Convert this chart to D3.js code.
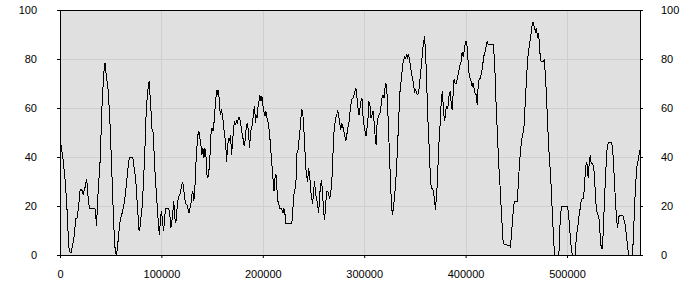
<!DOCTYPE html>
<html lang="en">
<head>
    <meta charset="UTF-8">
    <title>Line chart</title>
    <script src="https://d3js.org/d3.v7.min.js"></script>
    <style>
        body {
            margin: 0;
            padding: 0;
            background: #ffffff;
        }

        .tick text {
            font-family: "Liberation Sans", Arial, sans-serif;
            font-size: 11px;
            fill: #000;
        }
    </style>
</head>
<body>
    <svg width="700" height="300"></svg>

    <script>
        // x positions (in thousands) and the values
        const xs = [0, 1, 3, 5, 6, 7, 8, 9, 10, 11, 12, 13.5, 14.5, 15.5, 16.8, 17.8, 18.8, 19.7, 20.7, 22.1,
            23.1, 24.1, 25.1, 26.1, 27, 28, 29.3, 34.3, 35, 36, 37, 38, 39.2, 40.2, 40.9, 41.9, 42.8, 43.8, 44.4, 45.4,
            46.4, 47.4, 48.4, 49.4, 50, 50.7, 51.7, 52.7, 53.7, 54.7, 55.7, 56.7, 57.7, 58.6, 59.6, 60.6, 61.6, 62.6, 63.6, 64.6,
            65.5, 66.5, 67.5, 68.5, 69.5, 71.1, 72.1, 73, 74, 75, 76, 77, 78, 79, 80, 81, 81.9, 82.9, 83.9, 84.9,
            85.9, 86.9, 87.9, 88.8, 89.8, 90.8, 91.8, 92.8, 93.8, 94.8, 96.2, 97.1, 98.1, 99.1, 100.1, 101.1, 102.1, 103.1, 104, 107.3,
            108.3, 109.3, 110.3, 111.3, 112.2, 113.2, 114.2, 115.2, 116.2, 117.2, 118.2, 119.2, 120.1, 121.1, 122.1, 123.1, 124.1, 125.1, 126.1, 127.1,
            128, 129, 130, 131, 132, 133, 134, 135, 136, 136.9, 137.9, 138.9, 139.9, 140.9, 141.9, 142.9, 143.9, 144.8, 145.8, 146.8,
            147.8, 148.8, 149.8, 150.8, 151.7, 152.7, 153.7, 154.7, 155.7, 156.4, 157.4, 158.3, 159.3, 160.3, 161.3, 162.3, 163.3, 164.3, 165.2, 166.2,
            167.2, 168.2, 169.2, 170.2, 171.2, 172.2, 173.1, 174.1, 175.1, 176.1, 177.1, 178.1, 179.1, 180.1, 181, 182, 183, 184, 185, 186,
            187, 188, 189, 189.9, 190.9, 191.9, 192.8, 193.6, 194.4, 195.2, 196.2, 197.1, 198.1, 199.1, 200.1, 201.1, 202.1, 203.1, 204.1, 205,
            206, 207, 208, 209, 210, 211, 212, 213, 213.9, 214.9, 215.9, 216.9, 217.9, 218.9, 219.9, 220.8, 221.8, 222.8, 228.7, 229.7,
            230.7, 231.7, 232.7, 233.7, 234.6, 235.6, 236.6, 237.6, 238.6, 239.3, 240.3, 241.3, 242.3, 243.2, 244.2, 245.2, 246.2, 247.2, 248.2, 249.2,
            250.1, 251.1, 252.1, 253.1, 254.1, 255.1, 256.1, 257.1, 258, 259, 260, 261, 262, 263, 264, 265, 265.9, 266.9, 267.9, 268.9,
            269.9, 270.9, 271.9, 272.9, 273.8, 274.8, 275.8, 276.8, 277.8, 278.8, 279.8, 280.7, 281.7, 282.7, 283.7, 284.7, 285.7, 286.7, 287.7, 288.9,
            289.9, 290.9, 291.9, 292.9, 293.9, 294.9, 295.9, 296.8, 297.8, 298.8, 299.8, 300.8, 301.8, 302.8, 303.8, 304.7, 305.7, 306.7, 307.7, 308.7,
            309.7, 310.7, 311.7, 312.6, 313.6, 314.6, 315.6, 316.6, 317.6, 318.6, 319.6, 320.5, 321.5, 322.2, 323.2, 324.2, 325.2, 326.2, 327.1, 328.1,
            329.1, 330.1, 331.1, 332.1, 333.1, 334.1, 335, 336, 337, 338, 339, 340, 341, 342, 342.9, 343.9, 344.9, 345.9, 346.9, 347.9,
            348.9, 349.8, 350.8, 351.8, 352.8, 353.8, 354.8, 355.8, 356.8, 357.7, 358.7, 359.3, 360.3, 361.3, 362.3, 363.3, 364.3, 365.3, 366.2, 367.2,
            368.2, 369.2, 370.2, 371.2, 372.2, 373.2, 374.1, 375.1, 376.1, 377.1, 378.1, 379.1, 380.1, 381, 382, 383, 383.7, 384.7, 385.7, 386.7,
            387.7, 388.7, 389.6, 390.6, 391.6, 392.6, 393.6, 394.6, 395.6, 396.6, 397.5, 398.5, 399.5, 400.5, 401.5, 402.5, 403.5, 404.5, 405.4, 406.4,
            407.4, 408.4, 409.4, 410.4, 411.4, 412.3, 413.3, 414.3, 415.3, 416.3, 417.3, 418.3, 419.3, 420.2, 421.2, 422.2, 427.2, 428.1, 429.1, 430.1,
            431.1, 432.1, 433.1, 434.1, 435.1, 436, 437, 438, 443.3, 444.3, 445.2, 446.2, 447.2, 448.2, 451.1, 452.1, 453.1, 454.1, 455.1, 456.1,
            457.1, 458, 459, 460, 461, 462, 463, 464, 465, 465.9, 466.9, 467.9, 468.9, 469.9, 470.9, 471.9, 472.8, 473.8, 474.8, 476.8,
            477.8, 478.6, 479.4, 480.4, 481.4, 482.4, 483.7, 484.7, 485.7, 486.7, 487.7, 492, 493, 494, 495, 496, 500.5, 501.5, 502.5, 503.5,
            504.4, 505.4, 508, 509, 510, 511, 512, 513, 514, 515, 516, 517, 518, 519, 520, 520.9, 521.9, 522.9, 523.9, 524.9,
            525.9, 526.9, 527.8, 528.8, 529.8, 530.8, 531.8, 532.8, 533.8, 534.8, 535.7, 536.7, 537.7, 538.7, 539.7, 540.7, 541.7, 544, 545, 545.9,
            546.9, 547.9, 548.9, 549.9, 550.9, 551.9, 555.2, 556.2, 557.2, 558.2, 559.1, 560.1, 561.1, 564.4, 565.4, 566.4, 567.4, 568.4, 569.3, 570.3,
            571.3, 572];

        const values = [45, 45, 39, 31, 25, 18, 9, 2, 1, 1, 3.4, 6, 10, 15, 15, 18, 22, 26, 27, 26,
            24.5, 27, 28, 31, 28, 22, 19, 19, 18, 12, 21, 29, 35, 45, 56, 65, 71, 77.7, 78.4, 74,
            71, 67.5, 61, 53, 46, 39, 26.5, 16, 6, 0.7, 0, 3.4, 7.5, 11.6, 15, 16, 17.7, 19.7, 22, 25,
            29, 33, 37.4, 39.5, 40, 40, 39, 36, 33, 29, 22, 16, 10, 11.6, 16, 19.7, 26.5, 35, 45, 57,
            64, 68, 71, 65, 58.6, 51, 50, 41.5, 33, 26.5, 18, 12, 8, 15, 18, 14, 9.7, 14, 19, 19,
            16.5, 11, 13.7, 17.8, 22, 15, 13, 18, 22, 24, 24.6, 26.7, 28.7, 29.4, 26.7, 22.6, 21, 20.5, 19, 17,
            19, 20.5, 24.6, 26, 22, 27, 37, 43.7, 49, 50.5, 48, 45, 41, 43.7, 39.6, 43.7, 41, 32.8, 31.4, 34,
            39.6, 49, 51.8, 50.5, 53, 58.6, 64, 67.5, 65.4, 67.5, 60, 57, 58.6, 57, 53, 49, 46.4, 38, 43.7, 47.8,
            46.4, 49, 41, 46.4, 51.8, 54.6, 53, 54.6, 54, 56, 56, 54, 50.5, 49, 45.7, 44.4, 49, 53, 54, 49,
            43.7, 50.5, 51.8, 54, 58.6, 60.7, 54, 57, 56.6, 60, 62.7, 65.4, 62.7, 64.8, 61, 58.6, 56.6, 58.6, 56, 54.6,
            51.8, 47.8, 42.3, 37, 31.4, 26, 31.4, 32.8, 27.3, 22, 20.5, 19, 19, 18.5, 17, 19, 17, 13, 13, 19,
            24.6, 26.7, 30, 41.6, 42.3, 46.4, 50.5, 56, 59.3, 58.6, 53, 45, 35.5, 32.8, 30, 35.5, 32.8, 26.7, 23, 21,
            26, 30, 24.6, 23, 20.5, 17, 24.6, 28.7, 30.7, 24.6, 17.8, 14.4, 20.5, 26, 26, 24.6, 23, 25.3, 28.7, 38,
            49, 53, 56, 57, 59.3, 57, 54, 51, 54, 52.5, 51, 49, 46.4, 48.4, 51.8, 53, 57, 60.7, 63.4, 64,
            65.4, 66.8, 68, 64, 60, 57, 60, 62.7, 64, 57, 53, 50.5, 48.4, 51.8, 56, 62.7, 61, 56, 57, 58.6,
            54.6, 49, 45, 53, 56, 57, 58, 61, 64, 65.4, 64, 68, 70, 68, 60, 49, 38, 27.3, 19, 16.5,
            20.5, 24.6, 30, 37, 46.4, 56, 65.4, 69.5, 73.6, 77.7, 79.7, 81, 80.4, 81.8, 80.4, 81.8, 79, 76.3, 73.6, 71.6,
            68.8, 66.8, 67.5, 66, 65.4, 66.8, 70.9, 75, 79, 84.5, 85.9, 89.3, 84.5, 75, 61.4, 50.5, 42.3, 31.4, 27.3, 27.3,
            26, 23.3, 18.5, 23.3, 30, 41, 49, 54.6, 64, 66.8, 60, 54.6, 57, 60.7, 60, 61.4, 65.4, 66.8, 62.7, 59.3,
            65.4, 72, 70, 70, 71.6, 73.6, 75.6, 77.7, 79, 83, 81, 83, 86, 87.2, 85, 79, 73.6, 72, 71, 68.8,
            70.2, 68, 66, 65.4, 61.4, 68, 71.6, 72, 73.6, 75.6, 79, 81.8, 83, 85, 87.2, 86, 86, 81.8, 73.6, 61.4,
            51.8, 42.3, 34, 27.3, 19, 12.4, 5.6, 4.2, 4, 3.4, 8.3, 13.7, 19, 22, 22, 30, 37, 42.3, 46.4, 49,
            50.5, 54.6, 64, 71, 79, 83, 86, 88.6, 92, 94.7, 94.7, 92.7, 91.3, 92.7, 88.6, 90.6, 86, 79.7, 79, 79,
            79.7, 73.6, 68, 58.6, 49, 41, 33.3, 25, 15.6, 7.5, 0, 0, 11.6, 17.7, 19.7, 20, 20, 17, 11.6, 6,
            2, 0, 0, 6, 10, 12.8, 16.3, 19, 22.4, 23, 23, 26.5, 33.3, 38, 36.7, 31.3, 37.4, 40.8, 37.4, 37.4,
            36.7, 33.3, 26.5, 19.7, 17, 16.3, 14.3, 7.5, 2.7, 2.7, 8.8, 19.7, 29.2, 38, 44.2, 45.8, 46, 46, 43.5, 37.4,
            29.2, 21, 14.9, 10.9, 15.6, 16, 16, 14.3, 12.8, 9.5, 6, 2, 0, 0, 6, 17, 26.5, 33.3, 37.4, 38.8,
            41.5, 43];

        const xTicks = [0, 100000, 200000, 300000, 400000, 500000];
        const yTicks = [0, 20, 40, 60, 80, 100];

        const data = xs.map((x, i) => ({ x: x * 1000, y: values[i] }));

        const margin = { top: 10, right: 60, bottom: 45, left: 60 };
        const width = 700 - margin.left - margin.right;
        const height = 300 - margin.top - margin.bottom;

        const svg = d3.select("svg")
            .append("g")
            .attr("transform", `translate(${margin.left},${margin.top})`);

        const xScale = d3.scaleLinear()
            .domain([0, d3.max(xs) * 1000])
            .range([0, width]);

        const yScale = d3.scaleLinear()
            .domain([0, 100])
            .range([height, 0]);

        // plot background
        svg.append("rect")
            .attr("width", width)
            .attr("height", height)
            .attr("fill", "#e0e0e0");

        // grid
        svg.append("g")
            .selectAll("line")
            .data(xTicks.slice(1))
            .enter()
            .append("line")
            .attr("x1", d => Math.round(xScale(d)) + 0.5)
            .attr("x2", d => Math.round(xScale(d)) + 0.5)
            .attr("y1", 0)
            .attr("y2", height)
            .attr("stroke", "#cfcfcf");

        svg.append("g")
            .selectAll("line")
            .data(yTicks.slice(1, -1))
            .enter()
            .append("line")
            .attr("x1", 0)
            .attr("x2", width)
            .attr("y1", d => Math.round(yScale(d)) + 0.5)
            .attr("y2", d => Math.round(yScale(d)) + 0.5)
            .attr("stroke", "#cfcfcf");

        const line = d3.line()
            .x(d => xScale(d.x))
            .y(d => yScale(d.y));

        // crisp, un-smoothed line like the original
        svg.append("path")
            .datum(data)
            .attr("fill", "none")
            .attr("stroke", "#000")
            .attr("stroke-width", 1)
            .attr("shape-rendering", "crispEdges")
            .attr("d", line);

        // axes
        svg.append("g")
            .attr("transform", `translate(0,${height})`)
            .call(d3.axisBottom(xScale).tickValues(xTicks).tickFormat(d3.format("d")).tickSizeInner(3).tickSizeOuter(0).tickPadding(12));

        svg.append("g")
            .call(d3.axisLeft(yScale).tickValues(yTicks).tickSizeInner(3).tickSizeOuter(0).tickPadding(20));

        svg.append("g")
            .attr("transform", `translate(${width},0)`)
            .call(d3.axisRight(yScale).tickValues(yTicks).tickSizeInner(3).tickSizeOuter(0).tickPadding(18));

        // top border
        svg.append("line")
            .attr("x1", 0)
            .attr("x2", width)
            .attr("y1", 0.5)
            .attr("y2", 0.5)
            .attr("stroke", "#000");

        svg.selectAll(".domain").attr("stroke", "#000");
        svg.selectAll(".tick line").attr("stroke", "#000");
    </script>
</body>
</html>
